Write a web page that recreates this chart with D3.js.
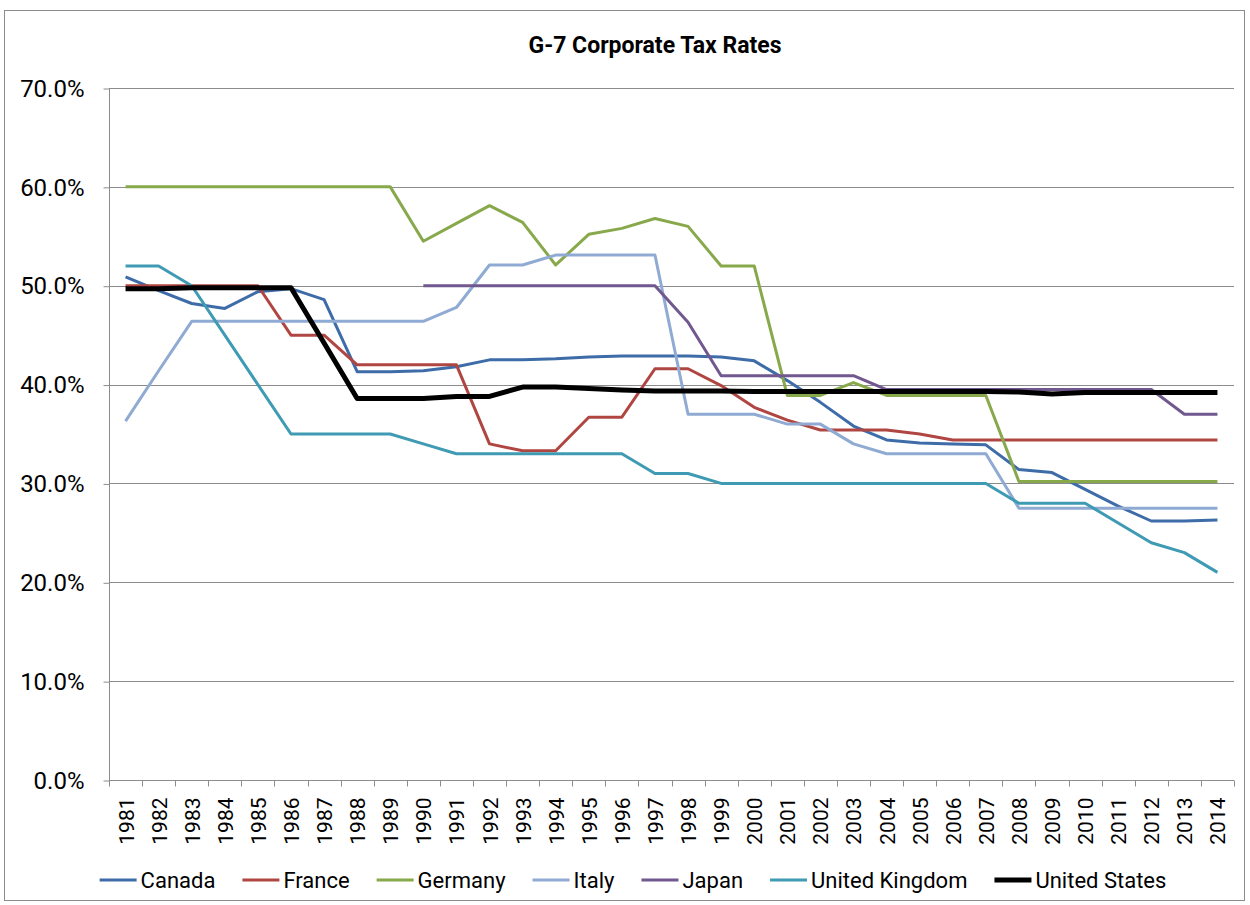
<!DOCTYPE html>
<html>
  <head>
    <meta charset="utf-8" />
    <title>G-7 Corporate Tax Rates</title>
    <script src="https://d3js.org/d3.v7.min.js"></script>
    <style>
      body { margin: 0; background: #fff; }
      text { font-family: Roboto, "Open Sans", sans-serif; fill: #000; }
    </style>
  </head>
  <body>
    <svg id="chart"></svg>
    <script>
      // years on the category axis
      var years = d3.range(1981, 2015).map(String);

      // rates in percent, one value per year (null = no data)
      var canada = [50.9, 49.5, 48.2, 47.7, 49.4, 49.7, 48.6, 41.3, 41.3, 41.4, 41.8, 42.5, 42.5, 42.6, 42.8, 42.9, 42.9,
                    42.9, 42.8, 42.4, 40.4, 38.2, 35.8, 34.4, 34.1, 34.0, 33.9, 31.4, 31.1, 29.4, 27.7, 26.2, 26.2, 26.3];
      var france = [50.0, 50.0, 50.0, 50.0, 50.0, 45.0, 45.0, 42.0, 42.0, 42.0, 42.0, 34.0, 33.3, 33.3, 36.7, 36.7, 41.6,
                    41.6, 39.9, 37.7, 36.4, 35.4, 35.4, 35.4, 35.0, 34.4, 34.4, 34.4, 34.4, 34.4, 34.4, 34.4, 34.4, 34.4];
      var germany = [60.0, 60.0, 60.0, 60.0, 60.0, 60.0, 60.0, 60.0, 60.0, 54.5, 56.3, 58.1, 56.4, 52.1, 55.2, 55.8, 56.8,
                     56.0, 52.0, 52.0, 38.9, 38.9, 40.2, 38.9, 38.9, 38.9, 38.9, 30.2, 30.2, 30.2, 30.2, 30.2, 30.2, 30.2];
      var italy = [36.3, 41.4, 46.4, 46.4, 46.4, 46.4, 46.4, 46.4, 46.4, 46.4, 47.8, 52.1, 52.1, 53.1, 53.1, 53.1, 53.1,
                   37.0, 37.0, 37.0, 36.0, 36.0, 34.0, 33.0, 33.0, 33.0, 33.0, 27.5, 27.5, 27.5, 27.5, 27.5, 27.5, 27.5];
      var japan = [null, null, null, null, null, null, null, null, null, 50.0, 50.0, 50.0, 50.0, 50.0, 50.0, 50.0, 50.0,
                   46.3, 40.9, 40.9, 40.9, 40.9, 40.9, 39.5, 39.5, 39.5, 39.5, 39.5, 39.5, 39.5, 39.5, 39.5, 37.0, 37.0];
      var uk = [52.0, 52.0, 50.0, 45.0, 40.0, 35.0, 35.0, 35.0, 35.0, 34.0, 33.0, 33.0, 33.0, 33.0, 33.0, 33.0, 31.0,
                31.0, 30.0, 30.0, 30.0, 30.0, 30.0, 30.0, 30.0, 30.0, 30.0, 28.0, 28.0, 28.0, 26.0, 24.0, 23.0, 21.0];
      var us = [49.7, 49.7, 49.8, 49.8, 49.8, 49.8, 44.2, 38.6, 38.6, 38.6, 38.8, 38.8, 39.75, 39.75, 39.6, 39.45, 39.35,
                39.35, 39.35, 39.3, 39.3, 39.3, 39.3, 39.3, 39.3, 39.3, 39.3, 39.25, 39.05, 39.2, 39.2, 39.2, 39.2, 39.2];

      var names = ["Canada", "France", "Germany", "Italy", "Japan", "United Kingdom", "United States"];
      var colors = ["#3d6ca8", "#b04642", "#88a94b", "#8faad3", "#71588f", "#3f9ab3", "#000000"];
      var yTicks = [0, 10, 20, 30, 40, 50, 60, 70];

      var width = 1250, height = 905;
      var margin = {top: 88, right: 16, bottom: 125, left: 109};

      var svg = d3.select("#chart").attr("width", width).attr("height", height);

      // outer chart frame
      svg.append("rect")
        .attr("x", 4.5).attr("y", 10.5)
        .attr("width", 1240).attr("height", 890)
        .attr("fill", "none").attr("stroke", "#8c8c8c").attr("stroke-width", 1);

      var x = d3.scaleBand()
        .domain(years)
        .range([margin.left, width - margin.right]);

      var y = d3.scaleLinear()
        .domain([0, 70])
        .range([height - margin.bottom, margin.top]);

      // gridlines
      svg.append("g").selectAll("line")
        .data(yTicks.filter(function(d) { return d > 0; }))
        .join("line")
        .attr("x1", margin.left).attr("x2", width - margin.right)
        .attr("y1", function(d) { return Math.round(y(d)) + 0.5; })
        .attr("y2", function(d) { return Math.round(y(d)) + 0.5; })
        .attr("stroke", "#8c8c8c").attr("stroke-width", 1);

      // y axis
      var yAxis = d3.axisLeft(y)
        .tickValues(yTicks)
        .tickSize(6)
        .tickPadding(19)
        .tickFormat(function(d) { return d3.format(".1f")(d) + "%"; });

      var gy = svg.append("g")
        .attr("transform", "translate(" + (margin.left + 0.5) + ",0.5)")
        .call(yAxis);
      gy.select(".domain").attr("stroke", "#8c8c8c").attr("d", "M0," + y(70) + "V" + y(0));
      gy.selectAll(".tick line").attr("stroke", "#8c8c8c");
      gy.selectAll(".tick text").attr("font-size", 24).attr("font-family", "Roboto, sans-serif");

      // x axis line and boundary ticks
      var gx = svg.append("g");
      var y0 = Math.round(y(0)) + 0.5;
      gx.append("line")
        .attr("x1", margin.left).attr("x2", width - margin.right)
        .attr("y1", y0).attr("y2", y0)
        .attr("stroke", "#8c8c8c");
      gx.selectAll(".bt")
        .data(years.concat(["end"]))
        .join("line")
        .attr("class", "bt")
        .attr("x1", function(d) { return Math.round(d === "end" ? x.range()[1] : x(d)) + 0.5; })
        .attr("x2", function(d) { return Math.round(d === "end" ? x.range()[1] : x(d)) + 0.5; })
        .attr("y1", y0).attr("y2", y0 + 6)
        .attr("stroke", "#8c8c8c");

      // year labels, rotated
      gx.selectAll(".yl")
        .data(years)
        .join("text")
        .attr("class", "yl")
        .attr("transform", function(d) {
          return "translate(" + (x(d) + x.bandwidth() / 2 + 8) + "," + (y0 + 17) + ") rotate(-90)";
        })
        .attr("text-anchor", "end")
        .attr("font-size", 21)
        .text(function(d) { return d; });

      // series lines
      var series = [canada, france, germany, italy, japan, uk, us];
      var line = d3.line()
        .defined(function(d) { return d != null; })
        .x(function(d, i) { return x(years[i]) + x.bandwidth() / 2; })
        .y(function(d) { return y(d); });

      svg.append("g").selectAll("path")
        .data(series)
        .join("path")
        .attr("d", line)
        .attr("fill", "none")
        .attr("stroke", function(d, i) { return colors[i]; })
        .attr("stroke-width", function(d, i) { return i === 6 ? 5 : 3; })
        .attr("stroke-linejoin", "round");

      // title
      svg.append("text")
        .attr("x", 655).attr("y", 53)
        .attr("text-anchor", "middle")
        .attr("font-size", 23)
        .attr("font-weight", "bold")
        .text("G-7 Corporate Tax Rates");

      // legend, laid out by measured text widths and centred
      var legend = svg.append("g");
      var items = legend.selectAll("g")
        .data(names)
        .join("g");
      items.append("line")
        .attr("x1", 0).attr("x2", 37)
        .attr("y1", 0).attr("y2", 0)
        .attr("stroke", function(d, i) { return colors[i]; })
        .attr("stroke-width", function(d, i) { return i === 6 ? 5 : 3; });
      items.append("text")
        .attr("x", 41).attr("y", 8)
        .attr("font-size", 22)
        .text(function(d) { return d; });

      var pos = 0, offsets = [];
      items.each(function() {
        offsets.push(pos);
        pos += 41 + this.querySelector("text").getComputedTextLength() + 27;
      });
      var total = pos - 27;
      var startX = 633 - total / 2;
      items.attr("transform", function(d, i) { return "translate(" + (startX + offsets[i]) + ",880)"; });
    </script>
  </body>
</html>
